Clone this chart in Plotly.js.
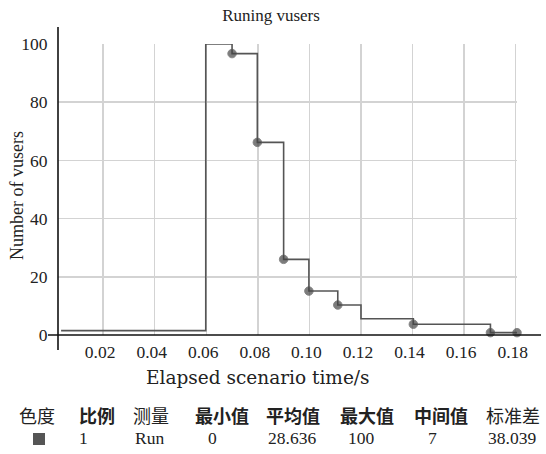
<!DOCTYPE html>
<html>
<head>
<meta charset="utf-8">
<script src="https://cdn.plot.ly/plotly-3.0.1.min.js"></script>
<style>html,body{margin:0;padding:0;background:#fff;}#chart{width:546px;height:454px;}</style>
</head>
<body>
<div id="chart"></div>
<script>
// step data (time in s, running vusers)
const elapsedTime = [0.0037, 0.0598, 0.0700, 0.0798, 0.0900, 0.0998, 0.1110, 0.1200, 0.1403, 0.1702, 0.1805];
const runningVusers = [1.5, 100, 96.7, 66.2, 26.0, 15.1, 10.3, 5.6, 3.7, 0.8, 0.8];
const hasMarker = [false, false, true, true, true, true, true, false, true, true, true];

const xTickVals = [0.02, 0.04, 0.06, 0.08, 0.10, 0.12, 0.14, 0.16, 0.18];
const yTickVals = [0, 20, 40, 60, 80, 100];

const chartTitle = "Runing vusers";
const xTitle = "Elapsed scenario time/s";
const yTitle = "Number of vusers";

// summary table
const tableHeaders = ["色度", "比例", "测量", "最小值", "平均值", "最大值", "中间值", "标准差"];
const tableValues = ["", "1", "Run", "0", "28.636", "100", "7", "38.039"];

// layout helpers (pixel -> paper)
const L = 58, R = 517, T = 44, B = 335;
const px = v => (v - L) / (R - L);
const py = v => (B - v) / (B - T);
const headerX = [37, 97, 151, 222, 293, 367, 441, 513];
const valueX = [39, 83, 149, 212, 292, 361, 432, 512];
const headerBold = [false, true, false, true, true, true, true, false];

const serif = "Liberation Serif";
const cjk = "Noto Sans CJK SC";

const traces = [{
  type: "scatter",
  mode: "lines+markers",
  x: elapsedTime,
  y: runningVusers,
  line: {shape: "hv", color: "#555555", width: 1.6},
  marker: {
    color: "#454545",
    size: hasMarker.map(m => m ? 8.5 : 0)
  },
  cliponaxis: false,
  hoverinfo: "x+y",
  showlegend: false
}];

const annotations = [
  {xref: "paper", yref: "paper", x: px(258), y: py(377), xanchor: "center", yanchor: "middle",
   showarrow: false, text: xTitle, font: {family: "DejaVu Serif", size: 18.5, color: "#222"}},
  {xref: "paper", yref: "paper", x: px(17), y: py(196), xanchor: "center", yanchor: "middle",
   showarrow: false, textangle: -90, text: yTitle, font: {family: serif, size: 18, color: "#222"}}
];
tableHeaders.forEach((h, i) => {
  annotations.push({
    xref: "paper", yref: "paper", x: px(headerX[i]), y: py(415),
    xanchor: "center", yanchor: "middle", showarrow: false,
    text: h,
    font: {family: cjk, size: 18, color: "#222", weight: headerBold[i] ? 700 : 400}
  });
});
tableValues.forEach((v, i) => {
  if (v === "") return;
  annotations.push({
    xref: "paper", yref: "paper", x: px(valueX[i]), y: py(438),
    xanchor: "center", yanchor: "middle", showarrow: false,
    text: v,
    font: {family: serif, size: 17.5, color: "#222"}
  });
});

const shapes = [
  {type: "line", xref: "paper", yref: "paper", x0: 0, x1: 0, y0: py(350), y1: py(27),
   line: {color: "#111", width: 1.6}},
  {type: "line", xref: "paper", yref: "paper", x0: px(48), x1: px(541), y0: 0, y1: 0,
   line: {color: "#111", width: 1.6}},
  {type: "rect", xref: "paper", yref: "paper", x0: px(33), x1: px(45), y0: py(445), y1: py(433),
   fillcolor: "#555", line: {width: 0}}
];

const layout = {
  width: 546, height: 454,
  font: {family: serif, size: 17, color: "#222"},
  margin: {l: L, r: 546 - R, t: T, b: 454 - B, pad: 0},
  paper_bgcolor: "#fff", plot_bgcolor: "#fff",
  title: {
    text: chartTitle,
    x: 271 / 546, xanchor: "center", xref: "container",
    y: 1 - 15 / 454, yanchor: "middle", yref: "container",
    font: {family: serif, size: 17, color: "#222"}
  },
  xaxis: {
    range: [0.0025, 0.1805],
    tickvals: xTickVals,
    tickformat: ".2f",
    showgrid: true, gridcolor: "#d3d3d3", gridwidth: 1.5,
    zeroline: false, showline: false,
    ticks: "outside", ticklen: 1, tickcolor: "rgba(0,0,0,0)",
    ticklabelshift: -3,
    tickfont: {family: serif, size: 17.5, color: "#222"}
  },
  yaxis: {
    range: [0, 100],
    tickvals: yTickVals,
    showgrid: true, gridcolor: "#d3d3d3", gridwidth: 1.5,
    zeroline: false, showline: false,
    ticks: "outside", ticklen: 6, tickcolor: "rgba(0,0,0,0)",
    tickfont: {family: serif, size: 17.5, color: "#222"}
  },
  shapes: shapes,
  annotations: annotations
};

Plotly.newPlot("chart", traces, layout, {displayModeBar: false, staticPlot: true});
</script>
</body>
</html>
